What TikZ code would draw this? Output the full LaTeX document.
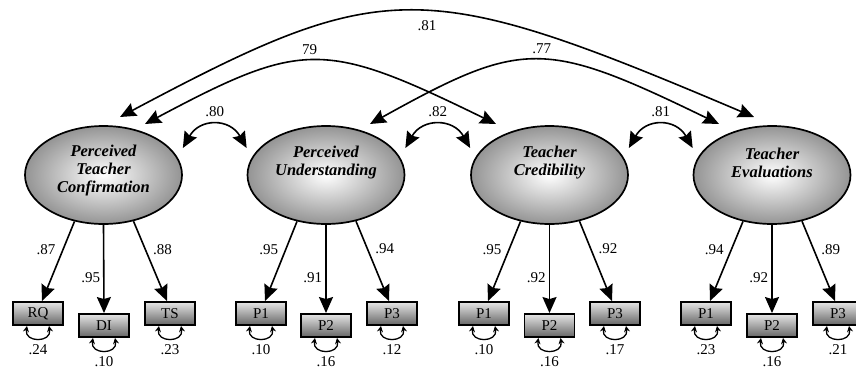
\documentclass[tikz,border=0pt]{standalone}
\usepackage{fontspec}
\setmainfont{Liberation Serif}
\usetikzlibrary{arrows.meta,shapes.geometric}
\tikzset{
        latent/.style={ellipse, draw=black, line width=1.7pt, minimum width=157pt, minimum height=98pt, inner sep=0pt, inner color=white, outer color=black!42},
        ltext/.style={align=center, inner sep=0pt, font=\fontsize{16.5}{18}\selectfont\bfseries\itshape},
        manifest/.style={rectangle, draw=black, line width=1.9pt, minimum width=50pt, minimum height=23pt, inner sep=0pt, top color=black!10, bottom color=black!60, font=\fontsize{15}{15}\selectfont},
        load/.style={line width=1.6pt, -{Stealth[length=16pt,width=14pt,inset=2pt]}},
        cov/.style={line width=1.6pt, {Stealth[length=16pt,width=14pt,inset=2pt]}-{Stealth[length=16pt,width=14pt,inset=2pt]}},
        errcov/.style={line width=1.3pt, {Stealth[length=6pt,width=6pt]}-{Stealth[length=6pt,width=6pt]}},
        coef/.style={inner sep=1pt, font=\fontsize{15}{15}\selectfont}
          }
\begin{document}
\begin{tikzpicture}[x=1pt,y=1pt]
        \useasboundingbox (0,0) rectangle (856,-370);
        \node[latent] (ptc) at (103.5,-175) {};
        \node[latent] (pu) at (326,-175) {};
        \node[latent] (tc) at (549.5,-175) {};
        \node[latent] (te) at (772,-175) {};
        \node[ltext] (ptc-t) at ([yshift=4pt]ptc.center) {Perceived\\Teacher\\Confirmation};
        \node[ltext] (pu-t) at ([yshift=12pt]pu.center) {Perceived\\Understanding};
        \node[ltext] (tc-t) at ([yshift=12pt]tc.center) {Teacher\\Credibility};
        \node[ltext] (te-t) at ([yshift=12pt]te.center) {Teacher\\Evaluations};

        \node[manifest] (rq) at (38,-313.5) {RQ};
        \node[manifest] (di) at (104,-325.5) {DI};
        \node[manifest] (ts) at (170,-313.5) {TS};
        \node[manifest] (pu1) at (261,-313.5) {P1};
        \node[manifest] (pu2) at (326,-325.5) {P2};
        \node[manifest] (pu3) at (392,-313.5) {P3};
        \node[manifest] (tc1) at (484,-313.5) {P1};
        \node[manifest] (tc2) at (549.5,-325.5) {P2};
        \node[manifest] (tc3) at (615,-313.5) {P3};
        \node[manifest] (te1) at (706,-313.5) {P1};
        \node[manifest] (te2) at (772,-325.5) {P2};
        \node[manifest] (te3) at (838,-313.5) {P3};

        \draw[load] (ptc.-122) -- ([xshift=4pt]rq.north) node[coef, pos=0.35, left=6pt] {.87};
        \draw[load] (ptc.south) -- (di.north) node[coef, pos=0.6, left=2pt] {.95};
        \draw[load] (ptc.-57) -- ([xshift=-3pt]ts.north) node[coef, pos=0.35, right=6pt] {.88};
        \draw[load] (pu.-122) -- ([xshift=4pt]pu1.north) node[coef, pos=0.35, left=6pt] {.95};
        \draw[load] (pu.south) -- (pu2.north) node[coef, pos=0.6, left=2pt] {.91};
        \draw[load] (pu.-57) -- ([xshift=-3pt]pu3.north) node[coef, pos=0.35, right=6pt] {.94};
        \draw[load] (tc.-122) -- ([xshift=4pt]tc1.north) node[coef, pos=0.35, left=6pt] {.95};
        \draw[load] (tc.south) -- (tc2.north) node[coef, pos=0.6, left=2pt] {.92};
        \draw[load] (tc.-57) -- ([xshift=-3pt]tc3.north) node[coef, pos=0.35, right=6pt] {.92};
        \draw[load] (te.-122) -- ([xshift=4pt]te1.north) node[coef, pos=0.35, left=6pt] {.94};
        \draw[load] (te.south) -- (te2.north) node[coef, pos=0.6, left=2pt] {.92};
        \draw[load] (te.-57) -- ([xshift=-3pt]te3.north) node[coef, pos=0.35, right=6pt] {.89};

        \draw[errcov] ([xshift=-11pt]rq.south) .. controls +(-3,-17) and +(3,-17) .. ([xshift=11pt]rq.south) node[coef, pos=0.5, below=4pt] {.24};
        \draw[errcov] ([xshift=-11pt]di.south) .. controls +(-3,-17) and +(3,-17) .. ([xshift=11pt]di.south) node[coef, pos=0.5, below=4pt] {.10};
        \draw[errcov] ([xshift=-11pt]ts.south) .. controls +(-3,-17) and +(3,-17) .. ([xshift=11pt]ts.south) node[coef, pos=0.5, below=4pt] {.23};
        \draw[errcov] ([xshift=-11pt]pu1.south) .. controls +(-3,-17) and +(3,-17) .. ([xshift=11pt]pu1.south) node[coef, pos=0.5, below=4pt] {.10};
        \draw[errcov] ([xshift=-11pt]pu2.south) .. controls +(-3,-17) and +(3,-17) .. ([xshift=11pt]pu2.south) node[coef, pos=0.5, below=4pt] {.16};
        \draw[errcov] ([xshift=-11pt]pu3.south) .. controls +(-3,-17) and +(3,-17) .. ([xshift=11pt]pu3.south) node[coef, pos=0.5, below=4pt] {.12};
        \draw[errcov] ([xshift=-11pt]tc1.south) .. controls +(-3,-17) and +(3,-17) .. ([xshift=11pt]tc1.south) node[coef, pos=0.5, below=4pt] {.10};
        \draw[errcov] ([xshift=-11pt]tc2.south) .. controls +(-3,-17) and +(3,-17) .. ([xshift=11pt]tc2.south) node[coef, pos=0.5, below=4pt] {.16};
        \draw[errcov] ([xshift=-11pt]tc3.south) .. controls +(-3,-17) and +(3,-17) .. ([xshift=11pt]tc3.south) node[coef, pos=0.5, below=4pt] {.17};
        \draw[errcov] ([xshift=-11pt]te1.south) .. controls +(-3,-17) and +(3,-17) .. ([xshift=11pt]te1.south) node[coef, pos=0.5, below=4pt] {.23};
        \draw[errcov] ([xshift=-11pt]te2.south) .. controls +(-3,-17) and +(3,-17) .. ([xshift=11pt]te2.south) node[coef, pos=0.5, below=4pt] {.16};
        \draw[errcov] ([xshift=-11pt]te3.south) .. controls +(-3,-17) and +(3,-17) .. ([xshift=11pt]te3.south) node[coef, pos=0.5, below=4pt] {.21};

        \draw[cov] ([yshift=27pt]ptc.east) .. controls +(17,30) and +(-17,30) .. ([yshift=27pt]pu.west) node[coef, pos=0.5, above=7pt] {.80};
        \draw[cov] ([yshift=27pt]pu.east) .. controls +(17,30) and +(-17,30) .. ([yshift=27pt]tc.west) node[coef, pos=0.5, above=7pt] {.82};
        \draw[cov] ([yshift=27pt]tc.east) .. controls +(17,30) and +(-17,30) .. ([yshift=27pt]te.west) node[coef, pos=0.5, above=7pt] {.81};

        \draw[cov] ([shift={(16.5,58)}]ptc.center) .. controls +(265,141) and +(-332,141) .. ([shift={(-18,58)}]te.center) node[coef, pos=0.53, below=7pt] {.81};
        \draw[cov] ([shift={(41.5,51)}]ptc.center) .. controls +(158,84) and +(-172,84) .. ([shift={(-53.5,51)}]tc.center) node[coef, pos=0.48, above=5pt] {79};
        \draw[cov] ([shift={(44,51)}]pu.center) .. controls +(153,85) and +(-175,85) .. ([shift={(-53,51)}]te.center) node[coef, pos=0.52, above=5pt] {.77};
\end{tikzpicture}
\end{document}
